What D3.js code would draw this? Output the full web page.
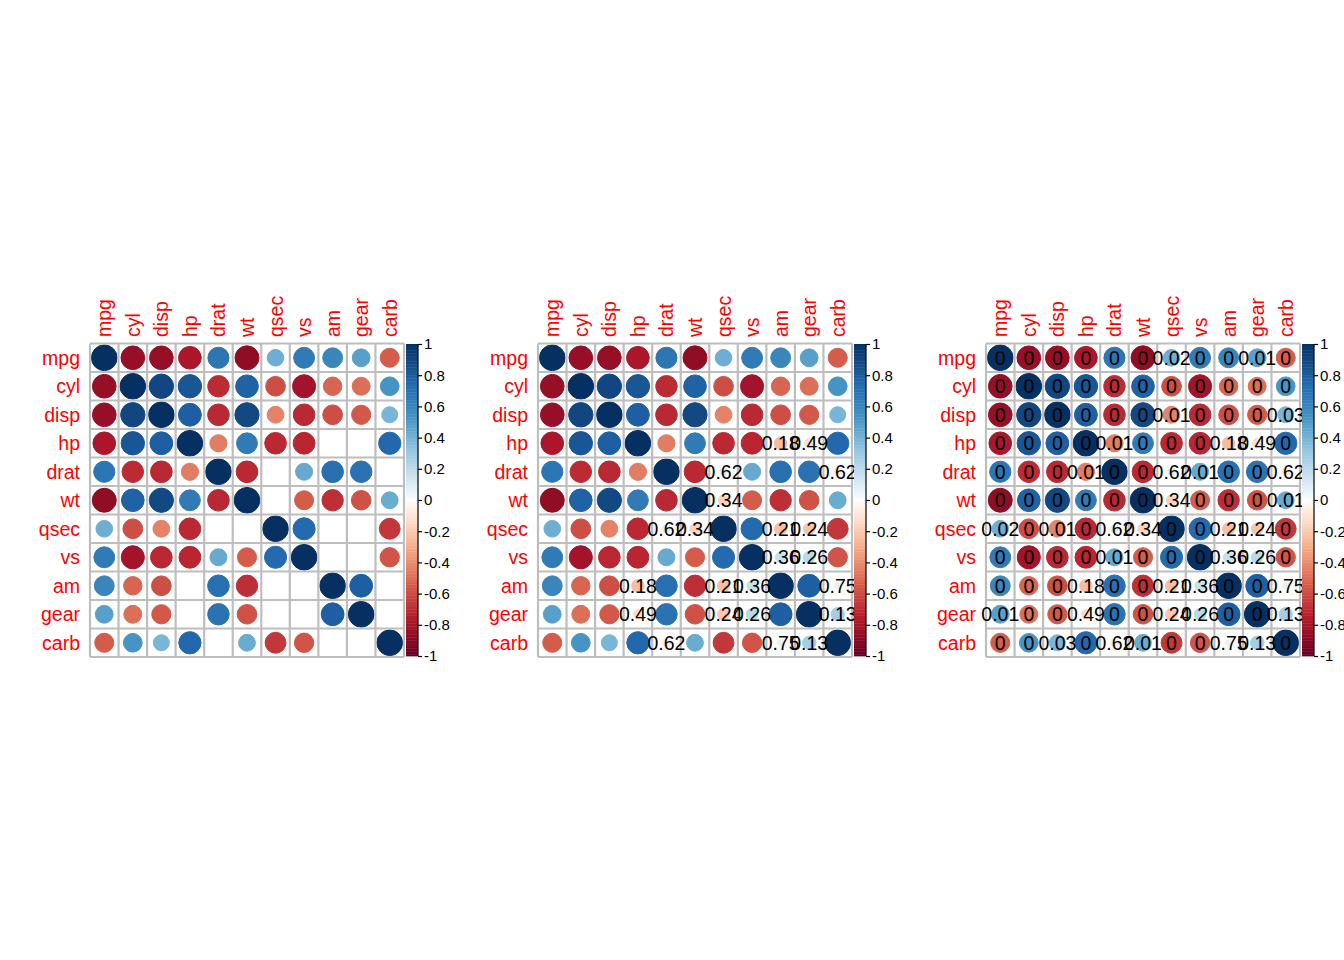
<!DOCTYPE html>
<html>
<head>
<meta charset="utf-8">
<script src="https://cdn.jsdelivr.net/npm/d3@7"></script>
<style>
  body { margin: 0; background: #fff; }
  text { font-family: "Liberation Sans", Arial, sans-serif; }
</style>
</head>
<body>
<svg width="1344" height="960"></svg>
<script>
var vars = ["mpg","cyl","disp","hp","drat","wt","qsec","vs","am","gear","carb"];

// correlation matrix of mtcars, row by row
var corMpg  = [ 1.00,-0.85,-0.85,-0.78, 0.68,-0.87, 0.42, 0.66, 0.60, 0.48,-0.55];
var corCyl  = [-0.85, 1.00, 0.90, 0.83,-0.70, 0.78,-0.59,-0.81,-0.52,-0.49, 0.53];
var corDisp = [-0.85, 0.90, 1.00, 0.79,-0.71, 0.89,-0.43,-0.71,-0.59,-0.56, 0.39];
var corHp   = [-0.78, 0.83, 0.79, 1.00,-0.45, 0.66,-0.71,-0.72,-0.24,-0.13, 0.75];
var corDrat = [ 0.68,-0.70,-0.71,-0.45, 1.00,-0.71, 0.09, 0.44, 0.71, 0.70,-0.09];
var corWt   = [-0.87, 0.78, 0.89, 0.66,-0.71, 1.00,-0.17,-0.55,-0.69,-0.58, 0.43];
var corQsec = [ 0.42,-0.59,-0.43,-0.71, 0.09,-0.17, 1.00, 0.74,-0.23,-0.21,-0.66];
var corVs   = [ 0.66,-0.81,-0.71,-0.72, 0.44,-0.55, 0.74, 1.00, 0.17, 0.21,-0.57];
var corAm   = [ 0.60,-0.52,-0.59,-0.24, 0.71,-0.69,-0.23, 0.17, 1.00, 0.79, 0.06];
var corGear = [ 0.48,-0.49,-0.56,-0.13, 0.70,-0.58,-0.21, 0.21, 0.79, 1.00, 0.27];
var corCarb = [-0.55, 0.53, 0.39, 0.75,-0.09, 0.43,-0.66,-0.57, 0.06, 0.27, 1.00];
var corRows = [corMpg, corCyl, corDisp, corHp, corDrat, corWt, corQsec, corVs, corAm, corGear, corCarb];

// p-values, rounded to 2 digits
var pMpg  = [0,0,0,0,0,0,0.02,0,0,0.01,0];
var pCyl  = [0,0,0,0,0,0,0,0,0,0,0];
var pDisp = [0,0,0,0,0,0,0.01,0,0,0,0.03];
var pHp   = [0,0,0,0,0.01,0,0,0,0.18,0.49,0];
var pDrat = [0,0,0,0.01,0,0,0.62,0.01,0,0,0.62];
var pWt   = [0,0,0,0,0,0,0.34,0,0,0,0.01];
var pQsec = [0.02,0,0.01,0,0.62,0.34,0,0,0.21,0.24,0];
var pVs   = [0,0,0,0,0.01,0,0,0,0.36,0.26,0];
var pAm   = [0,0,0,0.18,0,0,0.21,0.36,0,0,0.75];
var pGear = [0.01,0,0,0.49,0,0,0.24,0.26,0,0,0.13];
var pCarb = [0,0,0.03,0,0.62,0.01,0,0,0.75,0.13,0];
var pRows = [pMpg, pCyl, pDisp, pHp, pDrat, pWt, pQsec, pVs, pAm, pGear, pCarb];

var legendTicks = [1,0.8,0.6,0.4,0.2,0,-0.2,-0.4,-0.6,-0.8,-1];
var sigLevel = 0.05;

var palette = ["#67001F","#B2182B","#D6604D","#F4A582","#FDDBC7","#FFFFFF","#D1E5F0","#92C5DE","#4393C3","#2166AC","#053061"];
var ramp = d3.scaleLinear().domain(d3.range(11).map(function(i){ return -1 + i*0.2; })).range(palette);
// slightly darker ramp, closer to the rendered reference
function color(v) {
  var s = v < 0 ? -1 : 1;
  return ramp(s * Math.pow(Math.abs(v), 0.82));
}

var cells = [];
vars.forEach(function(rv, i) {
  vars.forEach(function(cv, j) {
    cells.push({row: rv, col: cv, r: corRows[i][j], p: pRows[i][j]});
  });
});

var svg = d3.select("svg");

// mode: 0 = blank insignificant, 1 = p-value on insignificant, 2 = p-value on all
function panel(offset, mode) {
  var g = svg.append("g").attr("transform", "translate(" + offset + ",0)");
  var x = d3.scaleBand().domain(vars).range([90, 404]);
  var y = d3.scaleBand().domain(vars).range([343.5, 657]);
  var bw = x.bandwidth();

  var shown = cells.filter(function(d){ return mode !== 0 || d.p <= sigLevel; });
  g.selectAll(".dot").data(shown).enter().append("circle")
    .attr("cx", function(d){ return x(d.col) + bw/2; })
    .attr("cy", function(d){ return y(d.row) + bw/2; })
    .attr("r", function(d){ return 0.45 * Math.sqrt(Math.abs(d.r)) * bw; })
    .attr("fill", function(d){ return color(d.r); })
    .attr("stroke", function(d){ return color(d.r); })
    .attr("stroke-width", 1);

  // grid
  var lines = d3.range(12);
  g.selectAll(".vl").data(lines).enter().append("line")
    .attr("x1", function(k){ return 90 + k*bw; }).attr("x2", function(k){ return 90 + k*bw; })
    .attr("y1", 343.5).attr("y2", 657)
    .attr("stroke", "#BEBEBE").attr("stroke-width", 2.2);
  g.selectAll(".hl").data(lines).enter().append("line")
    .attr("y1", function(k){ return 343.5 + k*y.bandwidth(); }).attr("y2", function(k){ return 343.5 + k*y.bandwidth(); })
    .attr("x1", 90).attr("x2", 404)
    .attr("stroke", "#BEBEBE").attr("stroke-width", 2.2);

  if (mode > 0) {
    var txt = cells.filter(function(d){ return mode === 2 || d.p > sigLevel; });
    g.selectAll(".pv").data(txt).enter().append("text")
      .attr("x", function(d){ return x(d.col) + bw/2; })
      .attr("y", function(d){ return y(d.row) + bw/2; })
      .attr("dy", "0.36em")
      .attr("text-anchor", "middle")
      .attr("font-size", 19.5)
      .attr("fill", "#000")
      .text(function(d){ return String(d.p); });
  }

  // labels
  g.selectAll(".rl").data(vars).enter().append("text")
    .attr("x", 80).attr("y", function(d){ return y(d) + bw/2; })
    .attr("dy", "0.36em").attr("text-anchor", "end")
    .attr("font-size", 19.5).attr("fill", "#FF0000")
    .text(function(d){ return d; });
  g.selectAll(".cl").data(vars).enter().append("text")
    .attr("transform", function(d){ return "translate(" + (x(d) + bw/2) + ",337) rotate(-90)"; })
    .attr("dy", "0.36em").attr("text-anchor", "start")
    .attr("font-size", 19.5).attr("fill", "#FF0000")
    .text(function(d){ return d; });

  // colour legend
  var ly = d3.scaleLinear().domain([1, -1]).range([344, 656]);
  var steps = d3.range(200).map(function(k){ return -1 + (k + 0.5) * 0.01; });
  g.selectAll(".lg").data(steps).enter().append("rect")
    .attr("x", 406).attr("width", 12)
    .attr("y", function(v){ return ly(v + 0.005); })
    .attr("height", ly(-1) - ly(-0.99) + 0.4)
    .attr("fill", function(v){ return color(v); });
  var axis = g.append("g").attr("transform", "translate(418,0)")
    .call(d3.axisRight(ly).tickValues(legendTicks).tickSize(4).tickPadding(2)
      .tickFormat(function(v){ return String(v); }));
  axis.select(".domain").attr("stroke", "#000").attr("stroke-width", 1.2).attr("d", "M0,344V656");
  axis.selectAll("line").attr("stroke", "#000").attr("stroke-width", 1.2);
  axis.selectAll("text").attr("font-size", 15).attr("fill", "#000")
    .style("font-family", "'Liberation Sans', Arial, sans-serif");
}

panel(0, 0);
panel(448, 1);
panel(896, 2);
</script>
</body>
</html>
